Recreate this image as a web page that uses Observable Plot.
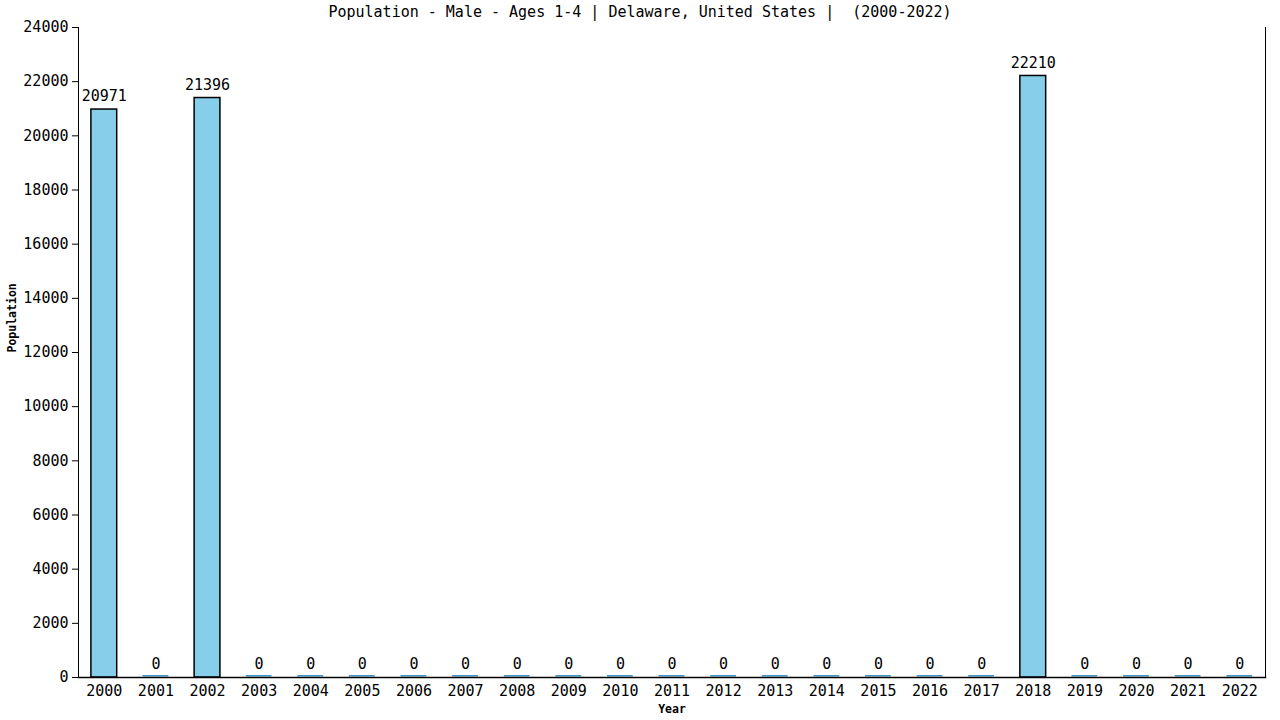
<!DOCTYPE html>
<html><head><meta charset="utf-8">
<script src="https://cdn.jsdelivr.net/npm/d3@7"></script>
<script src="https://cdn.jsdelivr.net/npm/@observablehq/plot@0.6"></script>
<style>
body{margin:0;background:#fff;}
#wrap{position:relative;width:1280px;height:720px;}
#title{position:absolute;top:3px;left:0;width:1280px;text-align:center;white-space:pre;font:15px "DejaVu Sans Mono",monospace;color:#000;}
</style></head>
<body><div id="wrap"><div id="title">Population - Male - Ages 1-4 | Delaware, United States |  (2000-2022)</div></div>
<script>
const years = ["2000","2001","2002","2003","2004","2005","2006","2007","2008","2009","2010","2011","2012","2013","2014","2015","2016","2017","2018","2019","2020","2021","2022"];
const values = [20971,0,21396,0,0,0,0,0,0,0,0,0,0,0,0,0,0,0,22210,0,0,0,0];
const yTicks = [0,2000,4000,6000,8000,10000,12000,14000,16000,18000,20000,22000,24000];
const data = years.map((y,i)=>({year:y,value:values[i]}));
const nonZero = data.filter(d=>d.value>0);
const zeros = data.filter(d=>d.value===0);
const chart = Plot.plot({
  width:1280,height:720,
  marginLeft:78,marginRight:15,marginTop:27,marginBottom:43,
  style:{fontFamily:"DejaVu Sans Mono, monospace",fontSize:"15px",color:"#000",background:"#fff"},
  x:{domain:years,paddingInner:0.5,paddingOuter:0.25,round:false,label:null},
  y:{domain:[0,24000],label:null},
  marks:[
    Plot.barY(nonZero,{x:"year",y:"value",fill:"#87CEEB",stroke:"#000",strokeWidth:1.5}),
    Plot.barY(zeros,{x:"year",y1:0,y2:0,fill:"#3f94c4",insetTop:-2,insetBottom:0.5}),
    Plot.text(data,{x:"year",y:"value",text:d=>String(d.value),dy:-13,fontSize:15}),
    Plot.axisY({ticks:yTicks,tickFormat:d=>String(d),tickSize:6,tickPadding:4,fontSize:15,label:null}),
    Plot.axisX({tickSize:0,tickPadding:8,fontSize:15,label:null}),
    Plot.frame({anchor:"left"}),
    Plot.frame({anchor:"bottom",strokeWidth:1.5}),
    Plot.frame({anchor:"right"}),
    Plot.text(["Population"],{frameAnchor:"left",dx:-66,rotate:-90,fontWeight:"bold",fontSize:11.5}),
    Plot.text(["Year"],{frameAnchor:"bottom",dy:35,fontWeight:"bold",fontSize:11.5})
  ]
});
document.getElementById("wrap").prepend(chart);
</script></body></html>
